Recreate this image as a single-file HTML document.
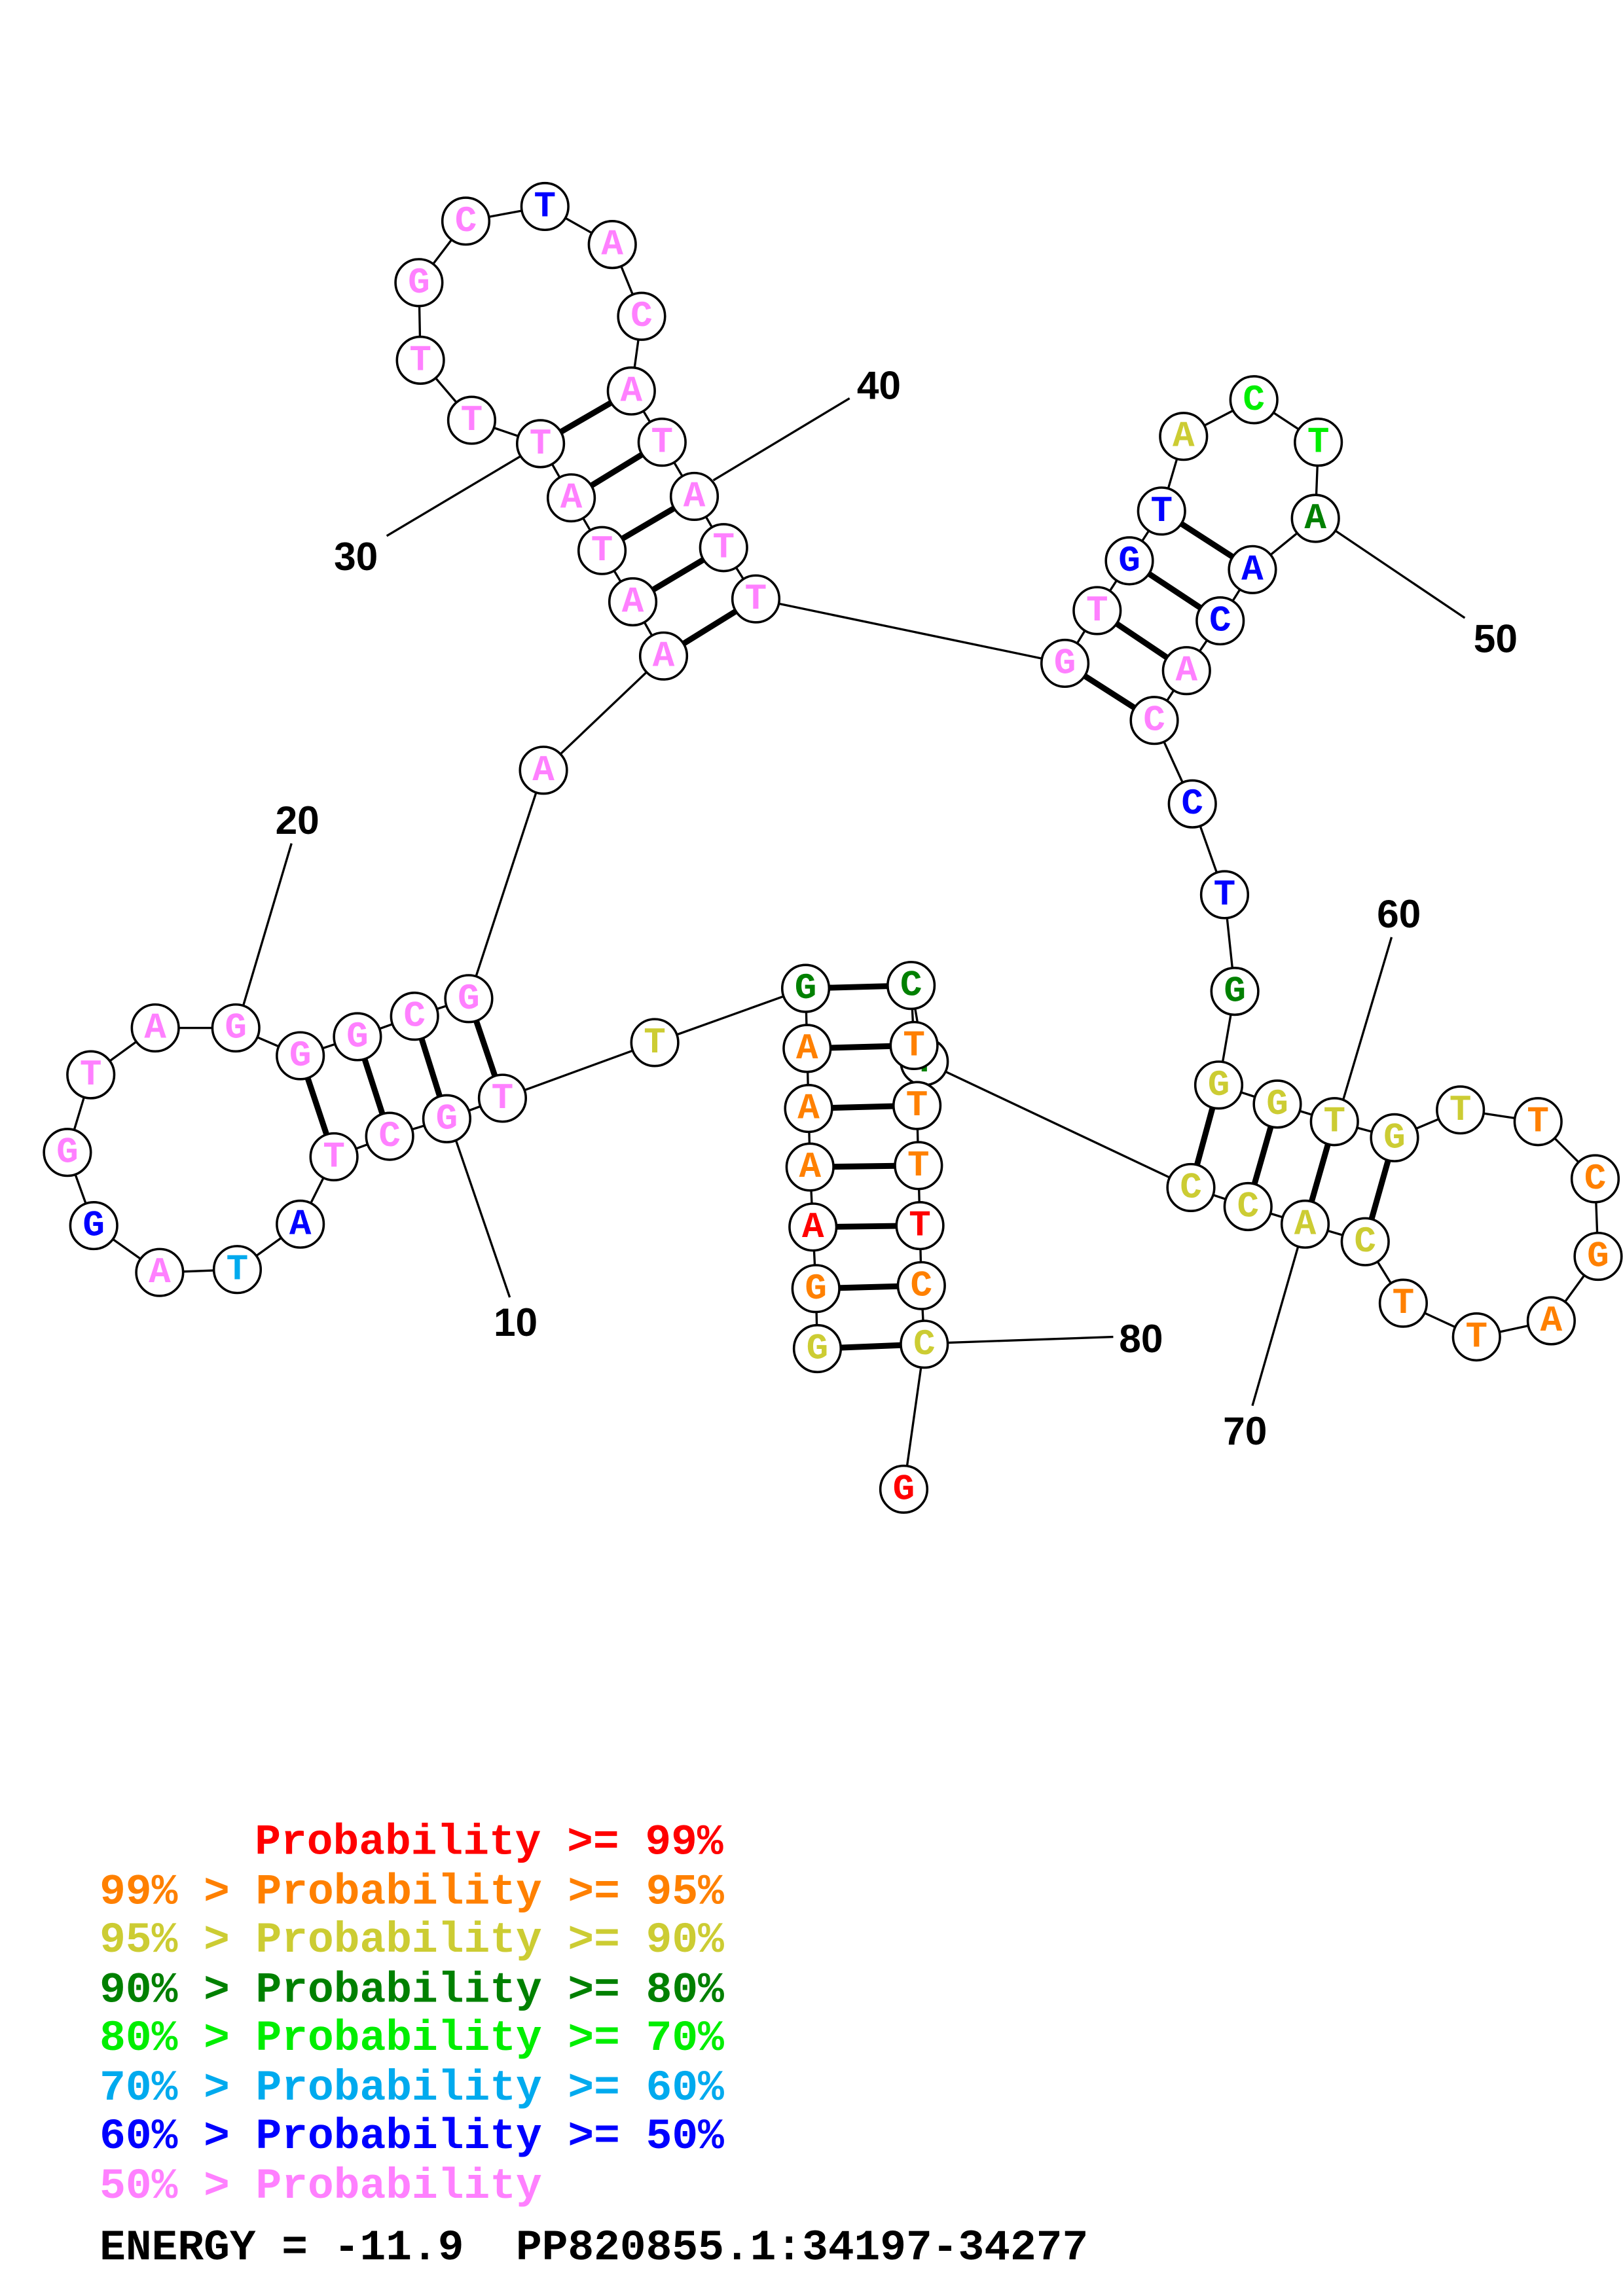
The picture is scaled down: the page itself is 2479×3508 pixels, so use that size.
<!DOCTYPE html>
<html><head><meta charset="utf-8"><style>
html,body{margin:0;padding:0;background:#fff}
svg{display:block}
.n{font-family:"Liberation Mono",monospace;font-weight:bold;font-size:25px;text-anchor:middle;dominant-baseline:central}
.l{font-family:"Liberation Sans",sans-serif;font-weight:bold;font-size:27px;fill:#000;text-anchor:middle;dominant-baseline:central}
.g{font-family:"Liberation Mono",monospace;font-weight:bold;font-size:29.6px;white-space:pre}
circle{fill:#fff;stroke:#000;stroke-width:1.6}
</style></head><body>
<svg width="2479" height="3508" viewBox="0 0 1108 1568" preserveAspectRatio="none" xmlns="http://www.w3.org/2000/svg">
<g stroke="#000" stroke-width="1.5" fill="none">
<polyline points="558,921 557,880 555,838 553,797 552,757 551,716 550,675 447,712 343,750 305,764 266,776 228,790 205,836 162,867 109,869 64,837 46,787 62,734 106,702 161,702 205,721 244,708 283,694 320,682 371,526 453,448 432,411 411,376 390,340 369,303 322,287 287,246 286,193 318,151 372,141 418,167 438,216 431,267 452,302 474,339 494,374 516,409 727,453 749,417 771,383 793,349 808,298 856,273 900,302 898,354 855,389 833,424 810,458 788,492 814,549 836,611 843,677 832,741 872,754 911,766 952,777 997,758 1050,766 1089,805 1091,858 1059,902 1008,913 958,890 932,848 891,836 852,824 813,811 631,725 622,673 624,714 626,755 627,796 628,837 629,878 631,918 617,1017"/>
<line x1="311" y1="778" x2="348" y2="886"/>
<line x1="166" y1="687" x2="199" y2="576"/>
<line x1="358" y1="310" x2="264" y2="366"/>
<line x1="487" y1="328" x2="580" y2="272"/>
<line x1="911" y1="362" x2="1000" y2="422"/>
<line x1="917" y1="751" x2="950" y2="640"/>
<line x1="886" y1="852" x2="855" y2="960"/>
<line x1="646" y1="917" x2="760" y2="913"/>
</g>
<g stroke="#000" stroke-width="4">
<line x1="558" y1="921" x2="631" y2="918"/>
<line x1="557" y1="880" x2="629" y2="878"/>
<line x1="555" y1="838" x2="628" y2="837"/>
<line x1="553" y1="797" x2="627" y2="796"/>
<line x1="552" y1="757" x2="626" y2="755"/>
<line x1="551" y1="716" x2="624" y2="714"/>
<line x1="550" y1="675" x2="622" y2="673"/>
<line x1="343" y1="750" x2="320" y2="682"/>
<line x1="305" y1="764" x2="283" y2="694"/>
<line x1="266" y1="776" x2="244" y2="708"/>
<line x1="228" y1="790" x2="205" y2="721"/>
<line x1="453" y1="448" x2="516" y2="409"/>
<line x1="432" y1="411" x2="494" y2="374"/>
<line x1="411" y1="376" x2="474" y2="339"/>
<line x1="390" y1="340" x2="452" y2="302"/>
<line x1="369" y1="303" x2="431" y2="267"/>
<line x1="727" y1="453" x2="788" y2="492"/>
<line x1="749" y1="417" x2="810" y2="458"/>
<line x1="771" y1="383" x2="833" y2="424"/>
<line x1="793" y1="349" x2="855" y2="389"/>
<line x1="832" y1="741" x2="813" y2="811"/>
<line x1="872" y1="754" x2="852" y2="824"/>
<line x1="911" y1="766" x2="891" y2="836"/>
<line x1="952" y1="777" x2="932" y2="848"/>
</g>
<g>
<circle cx="558" cy="921" r="16"/><text class="n" x="558" y="921" fill="#cccc33">G</text>
<circle cx="557" cy="880" r="16"/><text class="n" x="557" y="880" fill="#ff8000">G</text>
<circle cx="555" cy="838" r="16"/><text class="n" x="555" y="838" fill="#ff0000">A</text>
<circle cx="553" cy="797" r="16"/><text class="n" x="553" y="797" fill="#ff8000">A</text>
<circle cx="552" cy="757" r="16"/><text class="n" x="552" y="757" fill="#ff8000">A</text>
<circle cx="551" cy="716" r="16"/><text class="n" x="551" y="716" fill="#ff8000">A</text>
<circle cx="550" cy="675" r="16"/><text class="n" x="550" y="675" fill="#008000">G</text>
<circle cx="447" cy="712" r="16"/><text class="n" x="447" y="712" fill="#cccc33">T</text>
<circle cx="343" cy="750" r="16"/><text class="n" x="343" y="750" fill="#ff80ff">T</text>
<circle cx="305" cy="764" r="16"/><text class="n" x="305" y="764" fill="#ff80ff">G</text>
<circle cx="266" cy="776" r="16"/><text class="n" x="266" y="776" fill="#ff80ff">C</text>
<circle cx="228" cy="790" r="16"/><text class="n" x="228" y="790" fill="#ff80ff">T</text>
<circle cx="205" cy="836" r="16"/><text class="n" x="205" y="836" fill="#0000ff">A</text>
<circle cx="162" cy="867" r="16"/><text class="n" x="162" y="867" fill="#00aaee">T</text>
<circle cx="109" cy="869" r="16"/><text class="n" x="109" y="869" fill="#ff80ff">A</text>
<circle cx="64" cy="837" r="16"/><text class="n" x="64" y="837" fill="#0000ff">G</text>
<circle cx="46" cy="787" r="16"/><text class="n" x="46" y="787" fill="#ff80ff">G</text>
<circle cx="62" cy="734" r="16"/><text class="n" x="62" y="734" fill="#ff80ff">T</text>
<circle cx="106" cy="702" r="16"/><text class="n" x="106" y="702" fill="#ff80ff">A</text>
<circle cx="161" cy="702" r="16"/><text class="n" x="161" y="702" fill="#ff80ff">G</text>
<circle cx="205" cy="721" r="16"/><text class="n" x="205" y="721" fill="#ff80ff">G</text>
<circle cx="244" cy="708" r="16"/><text class="n" x="244" y="708" fill="#ff80ff">G</text>
<circle cx="283" cy="694" r="16"/><text class="n" x="283" y="694" fill="#ff80ff">C</text>
<circle cx="320" cy="682" r="16"/><text class="n" x="320" y="682" fill="#ff80ff">G</text>
<circle cx="371" cy="526" r="16"/><text class="n" x="371" y="526" fill="#ff80ff">A</text>
<circle cx="453" cy="448" r="16"/><text class="n" x="453" y="448" fill="#ff80ff">A</text>
<circle cx="432" cy="411" r="16"/><text class="n" x="432" y="411" fill="#ff80ff">A</text>
<circle cx="411" cy="376" r="16"/><text class="n" x="411" y="376" fill="#ff80ff">T</text>
<circle cx="390" cy="340" r="16"/><text class="n" x="390" y="340" fill="#ff80ff">A</text>
<circle cx="369" cy="303" r="16"/><text class="n" x="369" y="303" fill="#ff80ff">T</text>
<circle cx="322" cy="287" r="16"/><text class="n" x="322" y="287" fill="#ff80ff">T</text>
<circle cx="287" cy="246" r="16"/><text class="n" x="287" y="246" fill="#ff80ff">T</text>
<circle cx="286" cy="193" r="16"/><text class="n" x="286" y="193" fill="#ff80ff">G</text>
<circle cx="318" cy="151" r="16"/><text class="n" x="318" y="151" fill="#ff80ff">C</text>
<circle cx="372" cy="141" r="16"/><text class="n" x="372" y="141" fill="#0000ff">T</text>
<circle cx="418" cy="167" r="16"/><text class="n" x="418" y="167" fill="#ff80ff">A</text>
<circle cx="438" cy="216" r="16"/><text class="n" x="438" y="216" fill="#ff80ff">C</text>
<circle cx="431" cy="267" r="16"/><text class="n" x="431" y="267" fill="#ff80ff">A</text>
<circle cx="452" cy="302" r="16"/><text class="n" x="452" y="302" fill="#ff80ff">T</text>
<circle cx="474" cy="339" r="16"/><text class="n" x="474" y="339" fill="#ff80ff">A</text>
<circle cx="494" cy="374" r="16"/><text class="n" x="494" y="374" fill="#ff80ff">T</text>
<circle cx="516" cy="409" r="16"/><text class="n" x="516" y="409" fill="#ff80ff">T</text>
<circle cx="727" cy="453" r="16"/><text class="n" x="727" y="453" fill="#ff80ff">G</text>
<circle cx="749" cy="417" r="16"/><text class="n" x="749" y="417" fill="#ff80ff">T</text>
<circle cx="771" cy="383" r="16"/><text class="n" x="771" y="383" fill="#0000ff">G</text>
<circle cx="793" cy="349" r="16"/><text class="n" x="793" y="349" fill="#0000ff">T</text>
<circle cx="808" cy="298" r="16"/><text class="n" x="808" y="298" fill="#cccc33">A</text>
<circle cx="856" cy="273" r="16"/><text class="n" x="856" y="273" fill="#00ee00">C</text>
<circle cx="900" cy="302" r="16"/><text class="n" x="900" y="302" fill="#00ee00">T</text>
<circle cx="898" cy="354" r="16"/><text class="n" x="898" y="354" fill="#008000">A</text>
<circle cx="855" cy="389" r="16"/><text class="n" x="855" y="389" fill="#0000ff">A</text>
<circle cx="833" cy="424" r="16"/><text class="n" x="833" y="424" fill="#0000ff">C</text>
<circle cx="810" cy="458" r="16"/><text class="n" x="810" y="458" fill="#ff80ff">A</text>
<circle cx="788" cy="492" r="16"/><text class="n" x="788" y="492" fill="#ff80ff">C</text>
<circle cx="814" cy="549" r="16"/><text class="n" x="814" y="549" fill="#0000ff">C</text>
<circle cx="836" cy="611" r="16"/><text class="n" x="836" y="611" fill="#0000ff">T</text>
<circle cx="843" cy="677" r="16"/><text class="n" x="843" y="677" fill="#008000">G</text>
<circle cx="832" cy="741" r="16"/><text class="n" x="832" y="741" fill="#cccc33">G</text>
<circle cx="872" cy="754" r="16"/><text class="n" x="872" y="754" fill="#cccc33">G</text>
<circle cx="911" cy="766" r="16"/><text class="n" x="911" y="766" fill="#cccc33">T</text>
<circle cx="952" cy="777" r="16"/><text class="n" x="952" y="777" fill="#cccc33">G</text>
<circle cx="997" cy="758" r="16"/><text class="n" x="997" y="758" fill="#cccc33">T</text>
<circle cx="1050" cy="766" r="16"/><text class="n" x="1050" y="766" fill="#ff8000">T</text>
<circle cx="1089" cy="805" r="16"/><text class="n" x="1089" y="805" fill="#ff8000">C</text>
<circle cx="1091" cy="858" r="16"/><text class="n" x="1091" y="858" fill="#ff8000">G</text>
<circle cx="1059" cy="902" r="16"/><text class="n" x="1059" y="902" fill="#ff8000">A</text>
<circle cx="1008" cy="913" r="16"/><text class="n" x="1008" y="913" fill="#ff8000">T</text>
<circle cx="958" cy="890" r="16"/><text class="n" x="958" y="890" fill="#ff8000">T</text>
<circle cx="932" cy="848" r="16"/><text class="n" x="932" y="848" fill="#cccc33">C</text>
<circle cx="891" cy="836" r="16"/><text class="n" x="891" y="836" fill="#cccc33">A</text>
<circle cx="852" cy="824" r="16"/><text class="n" x="852" y="824" fill="#cccc33">C</text>
<circle cx="813" cy="811" r="16"/><text class="n" x="813" y="811" fill="#cccc33">C</text>
<circle cx="631" cy="725" r="16"/><text class="n" x="631" y="725" fill="#008000">T</text>
<circle cx="622" cy="673" r="16"/><text class="n" x="622" y="673" fill="#008000">C</text>
<circle cx="624" cy="714" r="16"/><text class="n" x="624" y="714" fill="#ff8000">T</text>
<circle cx="626" cy="755" r="16"/><text class="n" x="626" y="755" fill="#ff8000">T</text>
<circle cx="627" cy="796" r="16"/><text class="n" x="627" y="796" fill="#ff8000">T</text>
<circle cx="628" cy="837" r="16"/><text class="n" x="628" y="837" fill="#ff0000">T</text>
<circle cx="629" cy="878" r="16"/><text class="n" x="629" y="878" fill="#ff8000">C</text>
<circle cx="631" cy="918" r="16"/><text class="n" x="631" y="918" fill="#cccc33">C</text>
<circle cx="617" cy="1017" r="16"/><text class="n" x="617" y="1017" fill="#ff0000">G</text>
</g>
<g>
<text class="l" x="352" y="903">10</text>
<text class="l" x="203" y="560">20</text>
<text class="l" x="243" y="380">30</text>
<text class="l" x="600" y="263">40</text>
<text class="l" x="1021" y="436">50</text>
<text class="l" x="955" y="624">60</text>
<text class="l" x="850" y="977">70</text>
<text class="l" x="779" y="914">80</text>
</g>
<g class="g">
<text x="174" y="1266" fill="#ff0000">Probability &gt;= 99%</text>
<text x="68" y="1300" fill="#ff8000">99% &gt; Probability &gt;= 95%</text>
<text x="68" y="1333" fill="#cccc33">95% &gt; Probability &gt;= 90%</text>
<text x="68" y="1367" fill="#008000">90% &gt; Probability &gt;= 80%</text>
<text x="68" y="1400" fill="#00ee00">80% &gt; Probability &gt;= 70%</text>
<text x="68" y="1434" fill="#00aaee">70% &gt; Probability &gt;= 60%</text>
<text x="68" y="1467" fill="#0000ff">60% &gt; Probability &gt;= 50%</text>
<text x="68" y="1501" fill="#ff80ff">50% &gt; Probability</text>
<text x="68" y="1543" fill="#000">ENERGY = -11.9 &#160;PP820855.1:34197-34277</text>
</g>
</svg>
</body></html>
